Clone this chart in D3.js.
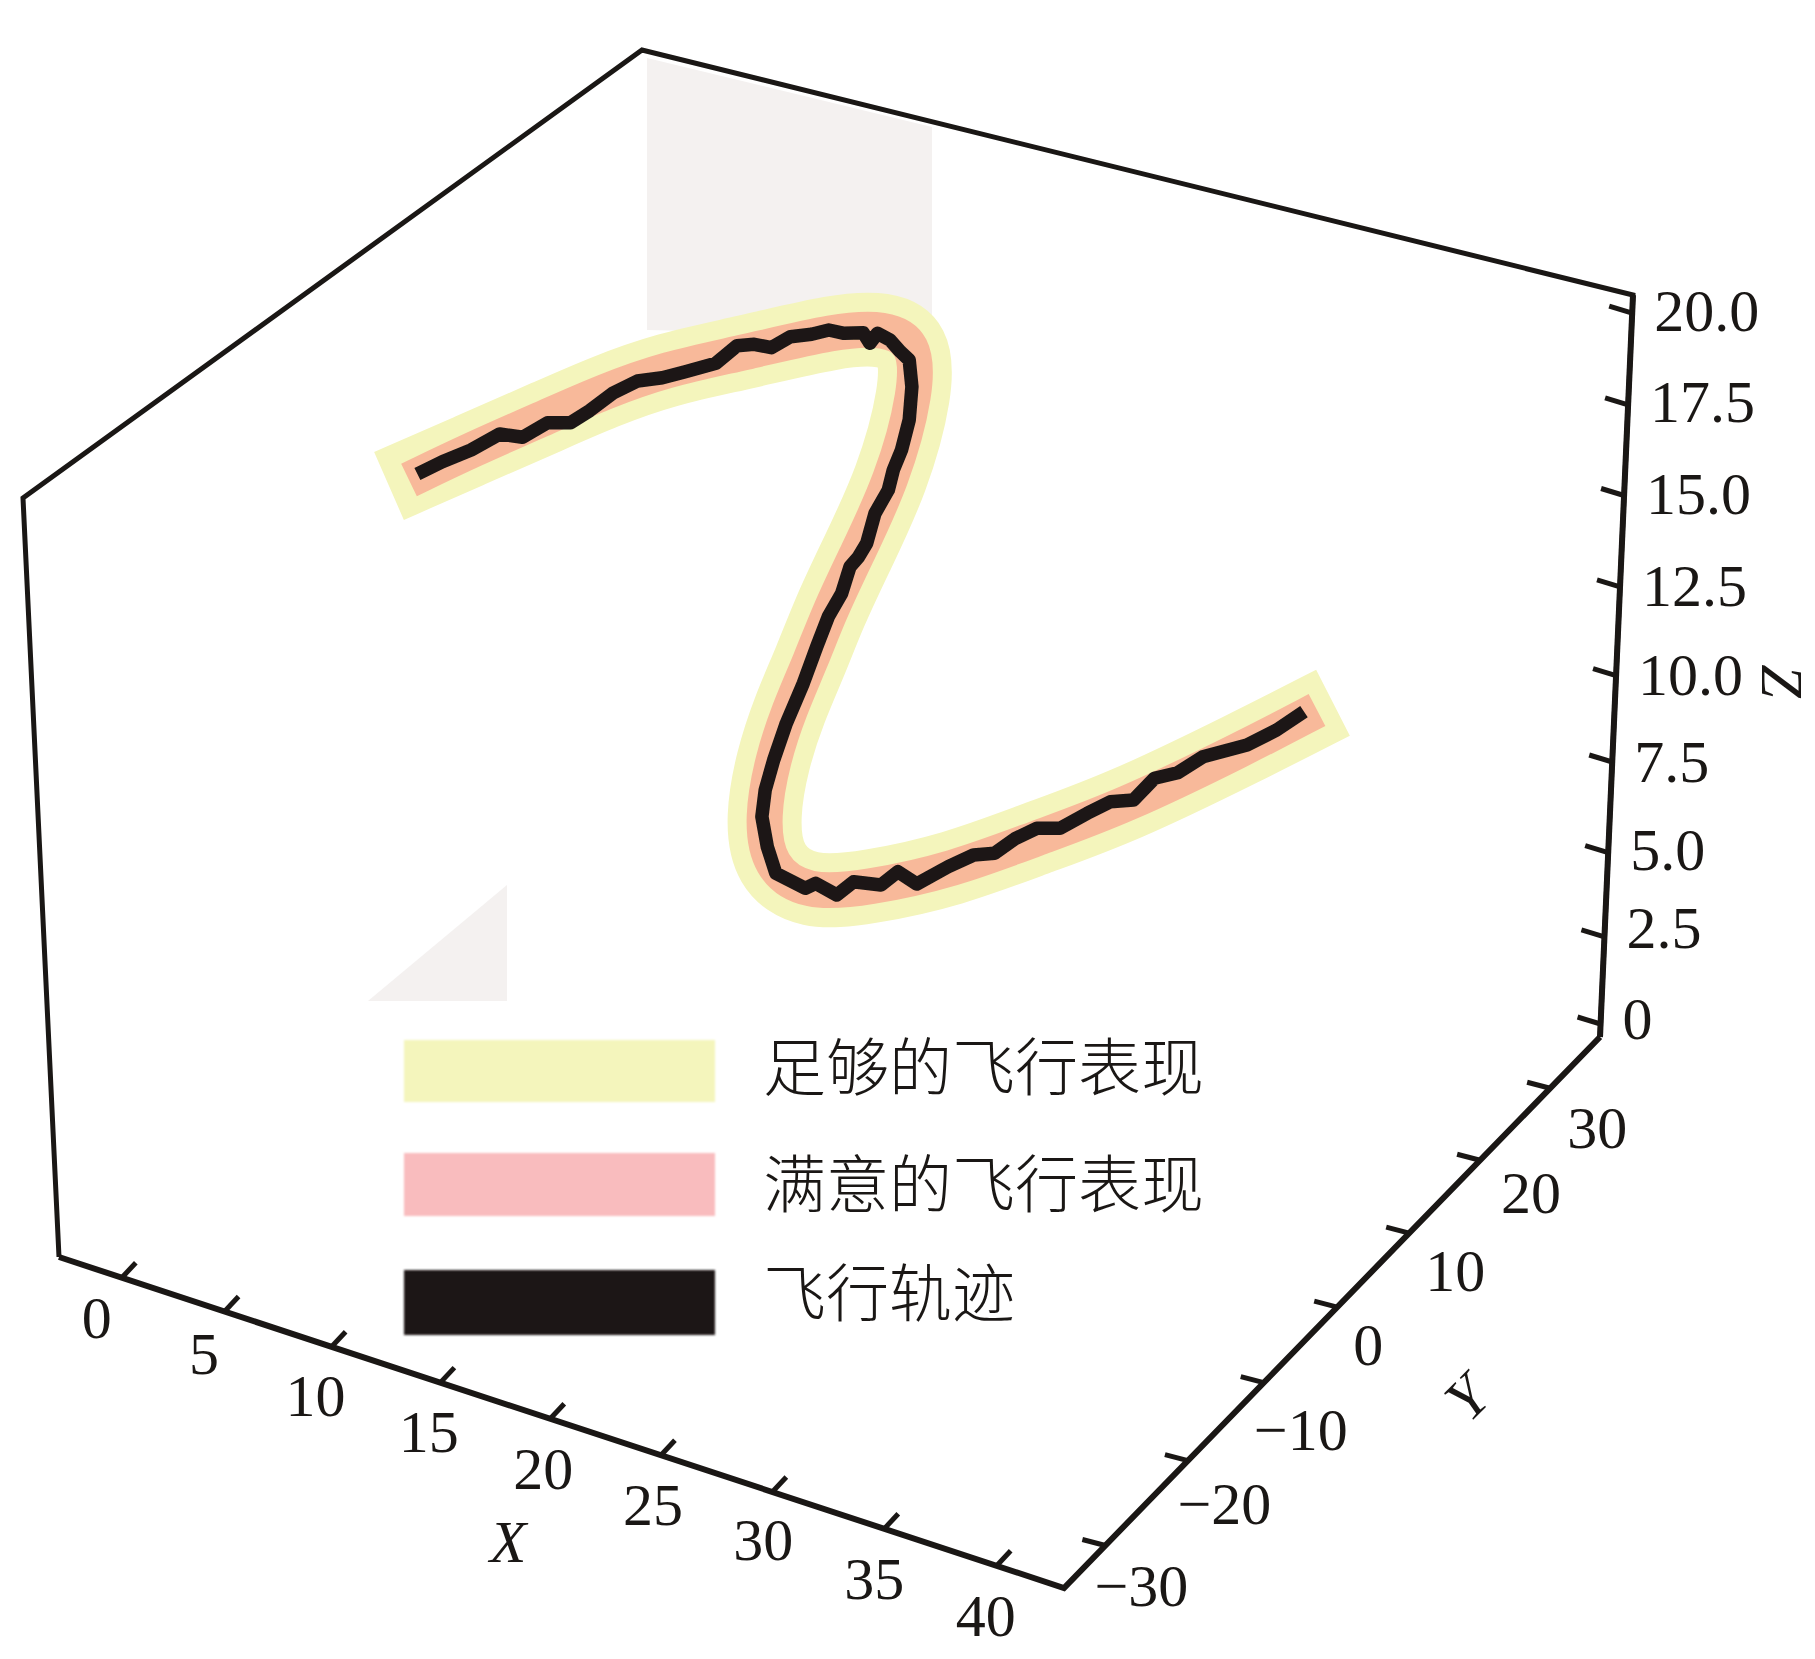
<!DOCTYPE html>
<html><head><meta charset="utf-8">
<script src="https://cdn.jsdelivr.net/npm/d3@7"></script>
<style>html,body{margin:0;padding:0;background:#fff}svg{display:block}</style>
</head><body><svg id="c" width="1815" height="1659"></svg>
<script>
// axis ticks
const xTicks = [0,5,10,15,20,25,30,35,40];
const yTicks = [-30,-20,-10,0,10,20,30];
const zTicks = [0,2.5,5,7.5,10,12.5,15,17.5,20];
const zTickLabels = ["0","2.5","5.0","7.5","10.0","12.5","15.0","17.5","20.0"];
const legendLabels = ["足够的飞行表现","满意的飞行表现","飞行轨迹"];
// flight track as read in the projected picture plane (horizontal, vertical plane units)
const trackU = [39.44,41.93,44.8,47.67,49.96,52.45,54.75,56.66,58.96,61.45,63.93,66.23,69.29,71.4,73.12,74.84,76.75,78.86,80.58,82.11,84.02,84.68,85.44,86.7,87.74,88.62,88.89,88.62,87.85,87.03,86.53,85.2,84.37,83.53,82.7,81.87,80.53,79.37,78.03,76.33,75.07,74.22,73.89,74.43,75.28,78.22,79.27,81.38,83.06,85.8,87.48,89.38,92.53,95.06,97.16,99.27,101.37,103.69,106.42,108.74,111.05,113.15,115.47,118,122.4,125.36,128.1];
const trackV = [112.6,113.83,115,116.6,116.27,117.73,117.73,118.93,120.67,121.9,122.23,122.83,123.67,125.43,125.57,125.23,126.33,126.57,127,126.67,126.73,125.67,126.67,126,124.83,124,121.33,118,115,113,111,108.67,105.67,104.27,103.33,100.67,98.33,95.33,91.67,87.67,84,81,78.33,75.33,72.67,71.17,71.67,70.5,71.83,71.5,72.83,71.6,73.33,74.5,74.67,76.17,77.17,77.17,78.67,79.83,80,82.17,82.73,84.33,85.5,87,88.83];
// performance band centre line
const bandU = [36.6,36.6,44.8,52.8,58,64.3,71.97,81.5,86.2,89.2,89.4,86.97,83.1,80.6,78.8,76.6,74.94,73.9,74.5,78.4,84.5,92.95,101.37,109.8,122.4,131,131];
const bandV = [111.4,111.4,115,118.5,120.8,123.1,124.7,127,127.2,125.8,121,112,104,98.7,94,89,84,78.33,73.3,70.6,71.2,73,76.2,79.2,85.33,89.73,89.73];
const satisfiedStartEndU = [38.6,129.4];
const satisfiedStartEndV = [112,89];

const YELLOW="#f4f5bc", PEACH="#f8b99a", PINK="#f9bcbe", BLACK="#1a1715", GREY="#f4f1f0";
const svg=d3.select("#c");
const defs=svg.append("defs");
defs.append("filter").attr("id","soft").attr("x","-5%").attr("y","-15%").attr("width","110%").attr("height","130%")
  .append("feGaussianBlur").attr("stdDeviation",1.3);
defs.append("filter").attr("id","softer").attr("filterUnits","userSpaceOnUse").attr("x",0).attr("y",0).attr("width",1815).attr("height",1659)
  .append("feGaussianBlur").attr("stdDeviation",0.6);

const U=d3.scaleLinear().domain([0,160]).range([23,1623]);
const V=d3.scaleLinear().domain([0,155]).range([1600,50]);

// box corners of the projected frame
const C={top:[642,50],left:[23,498],bl:[59,1257],b:[1064,1588],br:[1600,1037],tr:[1633,295]};
const lerp=(a,b,t)=>[a[0]+(b[0]-a[0])*t,a[1]+(b[1]-a[1])*t];
const xFrac=d3.scalePow().exponent(1.03).domain([0,40]).range([0.0625,0.933]);
const yFrac=d3.scalePow().exponent(0.94).domain([0,60]).range([0.0772,0.907]);
const zFrac=d3.scaleLinear().domain(zTicks).range([.0175,.1348,.2485,.3706,.4871,.6065,.7298,.8518,.9757]);
const xPos=d=>lerp(C.bl,C.b,xFrac(d));
const yPos=d=>lerp(C.b,C.br,yFrac(d+30));
const zPos=d=>lerp(C.br,C.tr,zFrac(d));

// pale background patches
const patch=d3.line().x(d=>d[0]).y(d=>d[1]);
svg.append("path").attr("d",patch([[647,58],[932,127],[932,336],[647,330]])+"Z").attr("fill",GREY);
svg.append("path").attr("d",patch([[507,885],[507,1001],[368,1001]])+"Z").attr("fill",GREY);

// tracks
const bandLine=d3.line().curve(d3.curveBasis).x(d=>U(d[0])).y(d=>V(d[1]));
const bandPts=d3.zip(bandU,bandV);
svg.append("path").attr("d",bandLine(bandPts)).attr("fill","none").attr("stroke",YELLOW).attr("stroke-width",74);
const peachPts=[[satisfiedStartEndU[0],satisfiedStartEndV[0]],[satisfiedStartEndU[0],satisfiedStartEndV[0]],...bandPts.slice(2,-2),[satisfiedStartEndU[1],satisfiedStartEndV[1]],[satisfiedStartEndU[1],satisfiedStartEndV[1]]];
svg.append("path").attr("d",bandLine(peachPts)).attr("fill","none").attr("stroke",PEACH).attr("stroke-width",36);
const trackLine=d3.line().x(d=>U(d[0])).y(d=>V(d[1]));
svg.append("path").attr("d",trackLine(d3.zip(trackU,trackV))).attr("fill","none").attr("stroke",BLACK)
  .attr("stroke-width",13.5).attr("stroke-linejoin","round").attr("filter","url(#softer)");

// frame
svg.append("path").attr("d",patch([C.br,C.tr,C.top,C.left,C.bl])).attr("fill","none").attr("stroke",BLACK).attr("stroke-width",5).attr("stroke-linejoin","miter");
svg.append("path").attr("d",patch([C.bl,C.b,C.br])).attr("fill","none").attr("stroke",BLACK).attr("stroke-width",6).attr("stroke-linejoin","miter");
svg.append("path").attr("d",patch([C.br,C.tr])).attr("fill","none").attr("stroke",BLACK).attr("stroke-width",6);

// ticks
const tick=(data,pos,dx,dy)=>svg.append("g").selectAll("line").data(data).join("line")
  .attr("x1",d=>pos(d)[0]).attr("y1",d=>pos(d)[1]).attr("x2",d=>pos(d)[0]+dx).attr("y2",d=>pos(d)[1]+dy)
  .attr("stroke",BLACK).attr("stroke-width",5);
tick(xTicks,xPos,14,-15); tick(yTicks,yPos,-23,-6); tick(zTicks,zPos,-23,-7);

const serif="'Liberation Serif','Times New Roman',serif";
const FS=60, mid=FS*0.338;
// x labels
const xDx=d3.scaleLinear().domain([0,10,20,40]).range([-25,-16,-7,-11]);
const xDy=d3.scaleLinear().domain([0,5,10,20,30,35,40]).range([40,42,49,50,48,50,50]);
svg.append("g").selectAll("text").data(xTicks).join("text").text(d=>d)
  .attr("x",d=>xPos(d)[0]+xDx(d)).attr("y",d=>xPos(d)[1]+xDy(d)+mid)
  .attr("text-anchor","middle").attr("font-family",serif).attr("font-size",FS).attr("fill",BLACK);
// y labels
const yDx=d3.scaleLinear().domain([-30,-10,0,10,20,30]).range([36,37,31,46,51,47]);
const yDy=d3.scaleLinear().domain([-30,-10,0,10,20,30]).range([40,47,38,38,32,39]);
svg.append("g").selectAll("text").data(yTicks).join("text").text(d=>d<0?"\u2212"+(-d):d)
  .attr("x",d=>yPos(d)[0]+yDx(d)).attr("y",d=>yPos(d)[1]+yDy(d)+mid)
  .attr("text-anchor","middle").attr("font-family",serif).attr("font-size",FS).attr("fill",BLACK);
// z labels
const zDy=d3.scaleLinear().domain([0,2.5,5,7.5,17.5,20]).range([-5,-9,-3,0,-3,-2]);
svg.append("g").selectAll("text").data(zTicks).join("text").text((d,i)=>zTickLabels[i])
  .attr("x",d=>zPos(d)[0]+22).attr("y",d=>zPos(d)[1]+zDy(d)+mid)
  .attr("font-family",serif).attr("font-size",FS).attr("fill",BLACK);
// axis titles
const title=(t,x,y,r)=>svg.append("text").text(t).attr("transform",`translate(${x},${y}) rotate(${r})`)
  .attr("text-anchor","middle").attr("y",FS*0.33).attr("font-family",serif).attr("font-style","italic").attr("font-size",FS).attr("fill",BLACK);
title("X",508,1542,0); title("Y",1467,1398,-45); title("Z",1782,681,90);

// legend
const swatches=[[1040,1102,YELLOW],[1153,1216,PINK],[1270,1335,BLACK]];
const textY=[1068,1185,1294];
svg.append("g").selectAll("rect").data(swatches).join("rect")
  .attr("x",404).attr("width",311).attr("y",d=>d[0]).attr("height",d=>d[1]-d[0]).attr("fill",d=>d[2]).attr("filter","url(#soft)");
svg.append("g").selectAll("text").data(legendLabels).join("text").text(d=>d)
  .attr("x",763).attr("y",(d,i)=>textY[i]+22).attr("font-family","'Noto Sans CJK SC'").attr("font-weight",300)
  .attr("font-size",63).attr("fill",BLACK);
</script></body></html>
